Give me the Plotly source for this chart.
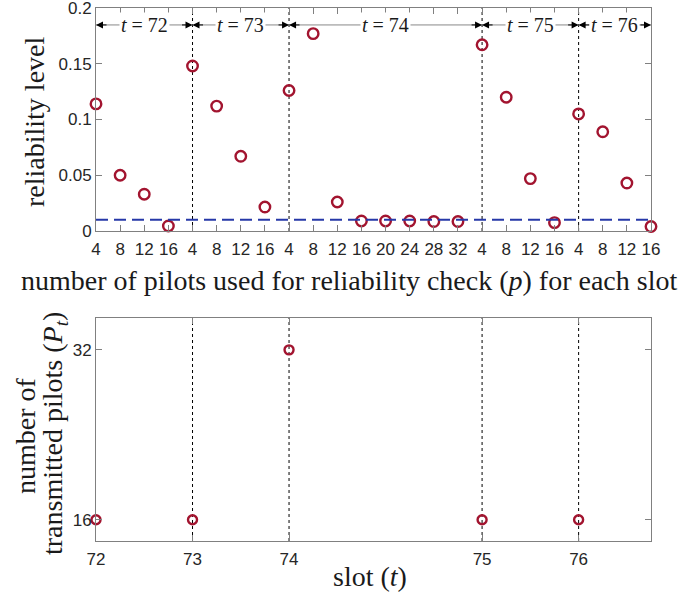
import plotly.graph_objects as go

# ---- data ----
pilot_labels = ["4", "8", "12", "16", "4", "8", "12", "16",
                "4", "8", "12", "16", "20", "24", "28", "32",
                "4", "8", "12", "16", "4", "8", "12", "16"]
reliability = [0.114, 0.050, 0.033, 0.0045,
               0.148, 0.112, 0.067, 0.0215,
               0.126, 0.177, 0.026, 0.009, 0.009, 0.009, 0.0085, 0.0085,
               0.167, 0.120, 0.047, 0.0075,
               0.105, 0.089, 0.043, 0.004]
threshold = 0.01
slots = [72, 73, 74, 75, 76]
slot_start_index = [0, 4, 8, 16, 20]
slot_end_index = [4, 8, 16, 20, 23]
transmitted_pilots = [16, 16, 32, 16, 16]

idx = list(range(len(reliability)))
RED = "#A2142F"
SERIF = "Liberation Serif"
SANS = "Liberation Sans"
AXC = "#808080"
TXT = "#1a1a1a"

W, H = 689, 603
ML, MR, MT, MB = 96, 38, 8, 62
PW, PH = W - ML - MR, H - MT - MB


def px(xpix):
    return (xpix - ML) / PW


def py(ypix):
    return (H - MB - ypix) / PH


fig = go.Figure()

fig.add_trace(go.Scatter(x=idx, y=reliability, mode="markers",
                         marker=dict(symbol="circle-open", size=10.5, color=RED,
                                     line=dict(width=2.4, color=RED)),
                         cliponaxis=False, xaxis="x", yaxis="y", showlegend=False))
fig.add_trace(go.Scatter(x=[idx[0], idx[-1]], y=[threshold, threshold], mode="lines",
                         line=dict(color="#2638a8", width=2, dash="12px,6px"),
                         xaxis="x", yaxis="y", showlegend=False))
fig.add_trace(go.Scatter(x=slot_start_index, y=transmitted_pilots, mode="markers",
                         marker=dict(symbol="circle-open", size=9, color=RED,
                                     line=dict(width=2.4, color=RED)),
                         cliponaxis=False, xaxis="x2", yaxis="y2", showlegend=False))

shapes = []
for s in slot_start_index[1:]:
    for ax_name, yref in (("x", "y"), ("x2", "y2")):
        shapes.append(dict(type="line", xref=ax_name, yref=yref + " domain",
                           x0=s, x1=s, y0=0, y1=1,
                           line=dict(color="black", width=1, dash="dot"), layer="below"))

annotations = []
yA = 0.1848
for a, b, t in zip(slot_start_index, slot_end_index, slots):
    m = (a + b) / 2
    shapes.append(dict(type="line", xref="x", yref="y", x0=a, x1=b, y0=yA, y1=yA,
                       line=dict(color="#888888", width=1)))
    for end, off in ((a, 12), (b, -12)):
        annotations.append(dict(x=end, y=yA, ax=off, ay=0, xref="x", yref="y",
                                text="", showarrow=True,
                                arrowhead=2, arrowsize=1.4, arrowwidth=1,
                                arrowcolor="black", standoff=0, startstandoff=0))
    annotations.append(dict(x=m, y=yA, xref="x", yref="y", text=f"<i>t</i> = {t}",
                            showarrow=False, bgcolor="white", borderpad=1,
                            font=dict(family=SERIF, size=20, color=TXT)))

# axis titles as annotations (placed in pixels)
tf = dict(family=SERIF, size=28, color=TXT)
title_specs = [
    (349, 280, "number of pilots used for reliability check (<i>p</i>) for each slot", 0),
    (34, 122, "reliability level", -90),
    (370, 576, "slot (<i>t</i>)", 0),
    (25, 436, "number of", -90),
    (54, 434, "transmitted pilots (<i>P</i><sub><i>t</i></sub>)", -90),
]
for xp, yp, txt, ang in title_specs:
    annotations.append(dict(x=px(xp), y=py(yp), xref="paper", yref="paper", showarrow=False,
                            xanchor="center", yanchor="middle", text=txt, textangle=ang,
                            font=tf))

axis_common = dict(showline=True, linecolor=AXC, linewidth=1, mirror="ticks",
                   ticks="inside", ticklen=6, tickcolor=AXC, showgrid=False,
                   zeroline=False, ticklabeloverflow="allow", automargin=False,
                   tickfont=dict(family=SANS, size=17, color="#262626"))

fig.update_layout(
    template="none",
    width=W, height=H,
    margin=dict(l=ML, r=MR, t=MT, b=MB),
    paper_bgcolor="white", plot_bgcolor="white",
    xaxis=dict(domain=[0, 1], range=[0, 23], tickmode="array", tickvals=idx,
               ticktext=pilot_labels, anchor="y", ticklabelstandoff=3, **axis_common),
    yaxis=dict(domain=[py(231), 1], range=[0, 0.2], tickmode="array",
               tickvals=[0, 0.05, 0.1, 0.15, 0.2], ticktext=["0", "0.05", "0.1", "0.15", "0.2"],
               anchor="x", **axis_common),
    xaxis2=dict(domain=[0, 1], range=[0, 23], tickmode="array", tickvals=slot_start_index,
                ticktext=[str(s) for s in slots], anchor="y2", ticklabelstandoff=3,
                **axis_common),
    yaxis2=dict(domain=[0, py(318)], range=[14, 35], tickmode="array", tickvals=[16, 32],
                ticktext=["16", "32"], anchor="x2", **axis_common),
    shapes=shapes, annotations=annotations,
)

fig.write_html("out.html", config={"displayModeBar": False},
               post_script="document.body.style.margin='0';")
